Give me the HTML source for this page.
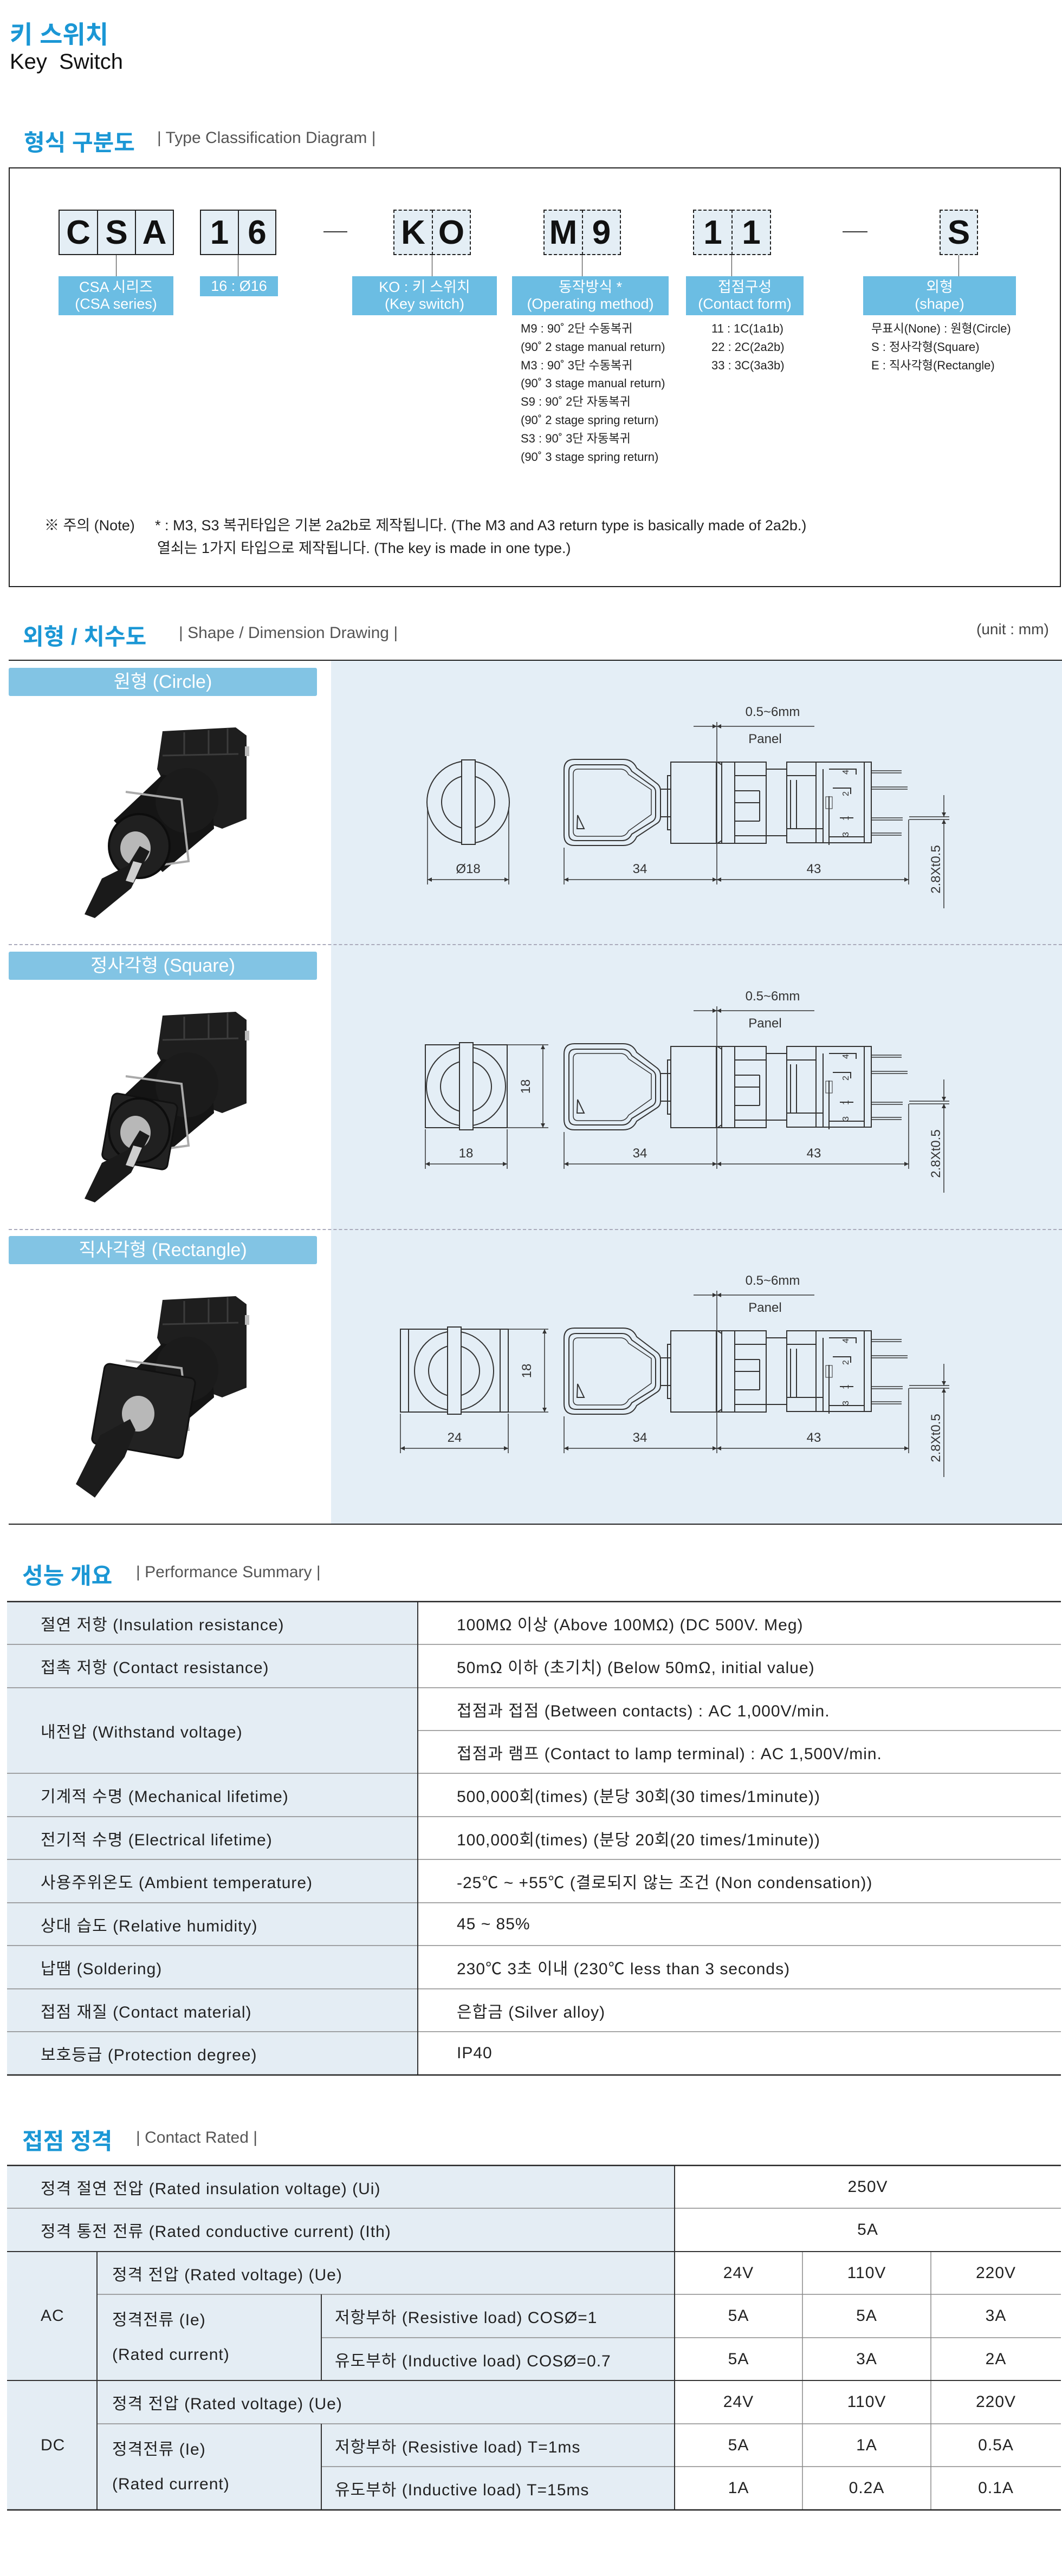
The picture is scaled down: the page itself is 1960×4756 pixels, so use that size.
<!DOCTYPE html>
<html><head><meta charset="utf-8">
<style>
*{margin:0;padding:0;box-sizing:border-box}
body{width:1960px;height:4756px;background:#fff;position:relative;overflow:hidden;font-family:"Liberation Sans","Noto Sans CJK KR",sans-serif;color:#222}
.a{position:absolute;white-space:nowrap}
.h{font-weight:bold;color:#1b97d5;font-size:42px}
.hs{color:#555;font-size:30px}
.cell{position:absolute;background:#e4eef5;border:2px solid #222;display:flex;align-items:center;justify-content:center;font-weight:bold;font-size:62px;color:#111}
.dash{border:2px dashed #222}
.lab{position:absolute;background:#6bbde3;color:#fff;font-size:27px;text-align:center;line-height:31px;display:flex;flex-direction:column;justify-content:center}
.lst{position:absolute;font-size:22px;line-height:33.8px;color:#222;white-space:nowrap}
.bar{position:absolute;left:16px;width:569px;height:52px;background:#82c4e4;border-radius:3px;color:#fff;font-size:34px;text-align:center;line-height:52px}
.tb{position:absolute;font-size:30px;letter-spacing:1px;display:flex;align-items:center}
</style></head><body>

<div class="a" style="left:18px;top:28px;font-size:46px;font-weight:bold;color:#1b97d5">키 스위치</div>
<div class="a" style="left:18px;top:92px;font-size:40px;color:#111">Key&nbsp; Switch</div>

<div class="a h" style="left:44px;top:230px">형식 구분도</div>
<div class="a hs" style="left:290px;top:238px">| Type Classification Diagram |</div>

<div class="a" style="left:16px;top:309px;width:1942px;height:775px;border:2px solid #222"></div>

<div class="cell" style="left:108px;top:387px;width:73px;height:84px">C</div>
<div class="cell" style="left:179px;top:387px;width:72px;height:84px">S</div>
<div class="cell" style="left:249px;top:387px;width:72px;height:84px">A</div>
<div class="cell" style="left:369px;top:387px;width:72px;height:84px">1</div>
<div class="cell" style="left:439px;top:387px;width:71px;height:84px">6</div>
<div class="a" style="left:597px;top:427px;width:44px;height:2px;background:#333"></div>
<div class="cell dash" style="left:726px;top:387px;width:73px;height:84px">K</div>
<div class="cell dash" style="left:797px;top:387px;width:72px;height:84px">O</div>
<div class="cell dash" style="left:1003px;top:387px;width:73px;height:84px">M</div>
<div class="cell dash" style="left:1074px;top:387px;width:72px;height:84px">9</div>
<div class="cell dash" style="left:1279px;top:387px;width:73px;height:84px">1</div>
<div class="cell dash" style="left:1350px;top:387px;width:73px;height:84px">1</div>
<div class="a" style="left:1555px;top:427px;width:46px;height:2px;background:#333"></div>
<div class="cell dash" style="left:1734px;top:387px;width:71px;height:84px">S</div>

<div class="a" style="left:214px;top:471px;width:1px;height:39px;background:#333"></div>
<div class="a" style="left:439px;top:471px;width:1px;height:39px;background:#333"></div>
<div class="a" style="left:797px;top:471px;width:1px;height:39px;background:#333"></div>
<div class="a" style="left:1074px;top:471px;width:1px;height:39px;background:#333"></div>
<div class="a" style="left:1350px;top:471px;width:1px;height:39px;background:#333"></div>
<div class="a" style="left:1769px;top:471px;width:1px;height:39px;background:#333"></div>

<div class="lab" style="left:108px;top:510px;width:212px;height:72px"><div>CSA 시리즈</div><div>(CSA series)</div></div>
<div class="lab" style="left:369px;top:510px;width:144px;height:37px"><div>16 : Ø16</div></div>
<div class="lab" style="left:650px;top:510px;width:267px;height:72px"><div>KO : 키 스위치</div><div>(Key switch)</div></div>
<div class="lab" style="left:945px;top:510px;width:289px;height:72px"><div>동작방식 *</div><div>(Operating method)</div></div>
<div class="lab" style="left:1266px;top:510px;width:217px;height:72px"><div>접점구성</div><div>(Contact form)</div></div>
<div class="lab" style="left:1593px;top:510px;width:282px;height:72px"><div>외형</div><div>(shape)</div></div>

<div class="lst" style="left:961px;top:590px">M9 : 90˚ 2단 수동복귀<br>(90˚ 2 stage manual return)<br>M3 : 90˚ 3단 수동복귀<br>(90˚ 3 stage manual return)<br>S9 : 90˚ 2단 자동복귀<br>(90˚ 2 stage spring return)<br>S3 : 90˚ 3단 자동복귀<br>(90˚ 3 stage spring return)</div>
<div class="lst" style="left:1313px;top:590px">11 : 1C(1a1b)<br>22 : 2C(2a2b)<br>33 : 3C(3a3b)</div>
<div class="lst" style="left:1608px;top:590px">무표시(None) : 원형(Circle)<br>S : 정사각형(Square)<br>E : 직사각형(Rectangle)</div>

<div class="a" style="left:82px;top:948px;font-size:27px">※ 주의 (Note)</div>
<div class="a" style="left:286px;top:948px;font-size:27px">* : M3, S3 복귀타입은 기본 2a2b로 제작됩니다. (The M3 and A3 return type is basically made of 2a2b.)</div>
<div class="a" style="left:290px;top:990px;font-size:27px">열쇠는 1가지 타입으로 제작됩니다. (The key is made in one type.)</div>

<div class="a h" style="left:42px;top:1142px">외형 / 치수도</div>
<div class="a hs" style="left:330px;top:1152px">| Shape / Dimension Drawing |</div>
<div class="a" style="left:1802px;top:1146px;font-size:28px;color:#444">(unit : mm)</div>
<div class="a" style="left:16px;top:1218px;width:1944px;height:2px;background:#222"></div>
<div class="a" style="left:611px;top:1220px;width:1349px;height:1594px;background:#e4eef6"></div>
<div class="a" style="left:16px;top:1743px;width:1944px;border-top:2px dashed #aab"></div>
<div class="a" style="left:16px;top:2269px;width:1944px;border-top:2px dashed #aab"></div>
<div class="a" style="left:16px;top:2813px;width:1944px;height:2px;background:#222"></div>
<div class="bar" style="top:1233px">원형 (Circle)</div>
<div class="bar" style="top:1757px">정사각형 (Square)</div>
<div class="bar" style="top:2282px">직사각형 (Rectangle)</div>

<svg class="a" style="left:0;top:0" width="1960" height="2820" viewBox="0 0 1960 2820">
<defs>
<marker id="ar" viewBox="0 0 10 10" refX="10" refY="5" markerWidth="14" markerHeight="8" orient="auto-start-reverse" markerUnits="userSpaceOnUse"><path d="M0,0L10,5L0,10z" fill="#333"/></marker>
<g id="side" fill="none" stroke="#333" stroke-width="2">
<path d="M1060,1402 H1150 Q1168,1402 1175,1418 L1213,1447 Q1219,1452 1219,1460 V1508 Q1219,1516 1213,1520 L1175,1545 Q1168,1561 1150,1561 H1060 Q1041,1561 1041,1542 V1421 Q1041,1402 1060,1402Z"/>
<path d="M1063,1412 H1148 Q1160,1412 1166,1424 L1205,1452 Q1210,1456 1210,1462 V1506 Q1210,1512 1205,1516 L1166,1540 Q1160,1552 1148,1552 H1063 Q1050,1552 1050,1540 V1424 Q1050,1412 1063,1412Z"/>
<path d="M1067,1420 H1145 Q1155,1420 1160,1430 L1202,1458 V1504 L1160,1534 Q1155,1544 1145,1544 H1067 Q1058,1544 1058,1535 V1429 Q1058,1420 1067,1420Z" stroke-width="1.5"/>
<path d="M1066,1505 L1078,1530 H1065Z"/>
<path d="M1219,1457 H1238 M1219,1508 H1238"/>
<rect x="1238" y="1407" width="84" height="150"/>
<path d="M1238,1432 h-6 v100 h6"/>
<path d="M1324,1407 l8,5 v140 l-8,5 M1332,1407 V1557 M1356,1407 V1557 M1324,1407 H1414 V1557 H1324"/>
<path d="M1356,1432 H1414 M1356,1460 H1402 M1356,1482 H1402 M1356,1516 H1402 M1356,1543 H1414 M1402,1460 V1516"/>
<path d="M1414,1420 H1452 M1414,1543 H1452"/>
<rect x="1452" y="1407" width="143" height="149"/>
<path d="M1506,1407 V1556 M1519,1420 V1556 M1452,1432 H1506 M1459,1440 V1530 M1470,1440 V1530 M1452,1530 H1519"/>
<path d="M1530,1420 H1580 V1430 M1537,1455 H1570 V1466 M1530,1470 V1560 M1550,1510 H1575 M1530,1545 H1595"/>
<path d="M1595,1407 H1608 V1556 H1595"/>
<path d="M1608,1423 H1664 M1608,1427 H1664 M1608,1453 H1675 M1608,1457 H1675 M1608,1510 H1666 M1608,1514 H1666 M1608,1538 H1664 M1608,1542 H1664" stroke-width="1.5"/>
<rect x="1524" y="1471" width="12" height="22" stroke-width="1"/>
<text x="1566" y="1430" font-size="16" fill="#333" stroke="none" transform="rotate(-90 1566 1430)" font-family="Liberation Sans">4</text>
<text x="1566" y="1470" font-size="16" fill="#333" stroke="none" transform="rotate(-90 1566 1470)" font-family="Liberation Sans">2</text>
<text x="1566" y="1515" font-size="16" fill="#333" stroke="none" transform="rotate(-90 1566 1515)" font-family="Liberation Sans">1</text>
<text x="1566" y="1545" font-size="16" fill="#333" stroke="none" transform="rotate(-90 1566 1545)" font-family="Liberation Sans">3</text>
<path d="M1323,1333 V1633" stroke-width="1.5"/>
<path d="M1280,1341 H1323" marker-end="url(#ar)" stroke-width="1.5"/>
<path d="M1503,1341 H1323" marker-end="url(#ar)" stroke-width="1.5"/>
<path d="M1041,1565 V1633 M1677,1513 V1633" stroke-width="1.5"/>
<path d="M1041,1624 H1323" marker-start="url(#ar)" marker-end="url(#ar)" stroke-width="1.5"/>
<path d="M1323,1624 H1677" marker-start="url(#ar)" marker-end="url(#ar)" stroke-width="1.5"/>
<path d="M1678,1508 H1752 M1678,1513 H1752" stroke-width="1.5"/>
<path d="M1742,1468 V1508" marker-end="url(#ar)" stroke-width="1.5"/>
<path d="M1742,1677 V1513" marker-end="url(#ar)" stroke-width="1.5"/>
<g fill="#333" stroke="none" font-family="Liberation Sans" font-size="24" text-anchor="middle">
<text x="1426" y="1322">0.5~6mm</text>
<text x="1412" y="1372">Panel</text>
<text x="1181" y="1612">34</text>
<text x="1502" y="1612">43</text>
<text x="1735" y="1605" transform="rotate(-90 1735 1605)">2.8Xt0.5</text>
</g>
</g>
<g id="pback">
<path d="M300,1350 L435,1343 L455,1358 L455,1512 L410,1530 L330,1500 L290,1420Z" fill="#1e1e1e"/>
<path d="M300,1395 L440,1392 M340,1352 V1395 M385,1348 V1393 M420,1345 V1392" stroke="#3c3c3c" stroke-width="3"/>
<rect x="452" y="1378" width="8" height="18" fill="#bbb"/>
<path d="M300,1430 L390,1450 L395,1530 L300,1610 L210,1515Z" fill="#151515"/>
<ellipse cx="345" cy="1478" rx="58" ry="60" fill="#1b1b1b"/>
<path d="M232,1462 L335,1476 L348,1590 L262,1602" stroke="#aaa" stroke-width="4" fill="none"/>
</g>
<g id="pfront">
<ellipse cx="257" cy="1562" rx="56" ry="59" fill="#202020" stroke="#0d0d0d" stroke-width="4"/>
<ellipse cx="250" cy="1566" rx="28" ry="31" fill="#b8b8b8"/>
<path d="M258,1562 L276,1572 L242,1640 L175,1695 L156,1688 L188,1622 L236,1598Z" fill="#1a1a1a"/>
<path d="M246,1590 L262,1594 L246,1630 L232,1626Z" fill="#cfcfcf"/>
</g>
</defs>

<use href="#pback"/><use href="#pfront"/>
<use href="#side"/>
<g fill="none" stroke="#333" stroke-width="2">
<circle cx="864" cy="1481" r="76"/><circle cx="864" cy="1481" r="49"/>
<rect x="852" y="1403" width="25" height="156" fill="#e4eef6"/>
<path d="M789,1490 V1633 M939,1490 V1633" stroke-width="1.5"/>
<path d="M789,1624 H939" marker-start="url(#ar)" marker-end="url(#ar)" stroke-width="1.5"/>
</g>
<text x="864" y="1612" font-size="24" text-anchor="middle" fill="#333" font-family="Liberation Sans">Ø18</text>

<g transform="translate(0,525)">
<use href="#pback"/>
<rect x="197" y="1502" width="122" height="124" rx="10" fill="#222" stroke="#111" stroke-width="3" transform="rotate(10 258 1564)"/>
<use href="#pfront"/>
<use href="#side"/>
<g fill="none" stroke="#333" stroke-width="2">
<rect x="785" y="1404" width="151" height="153"/>
<circle cx="860" cy="1481" r="73"/><circle cx="860" cy="1481" r="47"/>
<rect x="848" y="1400" width="25" height="161" fill="#e4eef6"/>
<path d="M785,1560 V1633 M936,1560 V1633 M936,1404 H1012 M936,1557 H1012" stroke-width="1.5"/>
<path d="M785,1624 H936" marker-start="url(#ar)" marker-end="url(#ar)" stroke-width="1.5"/>
<path d="M1002,1404 V1557" marker-start="url(#ar)" marker-end="url(#ar)" stroke-width="1.5"/>
</g>
<text x="860" y="1612" font-size="24" text-anchor="middle" fill="#333" font-family="Liberation Sans">18</text>
<text x="978" y="1481" font-size="24" text-anchor="middle" fill="#333" font-family="Liberation Sans" transform="rotate(-90 978 1481)">18</text>
</g>

<g transform="translate(0,1050)">
<use href="#pback"/>
<rect x="180" y="1480" width="170" height="150" rx="10" fill="#222" stroke="#111" stroke-width="3" transform="rotate(10 265 1555)"/>
<ellipse cx="255" cy="1560" rx="30" ry="33" fill="#b8b8b8"/>
<path d="M240,1570 L185,1600 L140,1690 L175,1715 L230,1640 L250,1590Z" fill="#1c1c1c"/>
<use href="#side"/>
<g fill="none" stroke="#333" stroke-width="2">
<rect x="739" y="1404" width="199" height="153"/>
<path d="M754,1404 V1557 M923,1404 V1557"/>
<circle cx="838" cy="1481" r="73"/><circle cx="838" cy="1481" r="47"/>
<rect x="826" y="1400" width="25" height="161" fill="#e4eef6"/>
<path d="M739,1560 V1633 M938,1560 V1633 M938,1404 H1012 M938,1557 H1012" stroke-width="1.5"/>
<path d="M739,1624 H938" marker-start="url(#ar)" marker-end="url(#ar)" stroke-width="1.5"/>
<path d="M1005,1404 V1557" marker-start="url(#ar)" marker-end="url(#ar)" stroke-width="1.5"/>
</g>
<text x="839" y="1612" font-size="24" text-anchor="middle" fill="#333" font-family="Liberation Sans">24</text>
<text x="980" y="1481" font-size="24" text-anchor="middle" fill="#333" font-family="Liberation Sans" transform="rotate(-90 980 1481)">18</text>
</g>
</svg>

<div class="a h" style="left:41px;top:2876px">성능 개요</div>
<div class="a hs" style="left:251px;top:2886px">| Performance Summary |</div>
<svg class="a" style="left:0;top:2950px" width="1960" height="890">
<rect x="13" y="7" width="758" height="874" fill="#e4edf4"/>
<g stroke="#888" stroke-width="1.5">
<line x1="13" y1="86" x2="1958" y2="86"/>
<line x1="13" y1="166" x2="1958" y2="166"/>
<line x1="771" y1="245" x2="1958" y2="245"/>
<line x1="13" y1="324" x2="1958" y2="324"/>
<line x1="13" y1="404" x2="1958" y2="404"/>
<line x1="13" y1="483" x2="1958" y2="483"/>
<line x1="13" y1="563" x2="1958" y2="563"/>
<line x1="13" y1="642" x2="1958" y2="642"/>
<line x1="13" y1="722" x2="1958" y2="722"/>
<line x1="13" y1="801" x2="1958" y2="801"/>
</g>
<line x1="771" y1="7" x2="771" y2="881" stroke="#333" stroke-width="2"/>
<line x1="13" y1="7" x2="1958" y2="7" stroke="#222" stroke-width="2.5"/>
<line x1="13" y1="881" x2="1958" y2="881" stroke="#222" stroke-width="2.5"/>
</svg>
<div class="tb" style="left:75px;top:2957px;height:80px">절연 저항 (Insulation resistance)</div>
<div class="tb" style="left:75px;top:3036px;height:80px">접촉 저항 (Contact resistance)</div>
<div class="tb" style="left:75px;top:3116px;height:158px">내전압 (Withstand voltage)</div>
<div class="tb" style="left:75px;top:3274px;height:80px">기계적 수명 (Mechanical lifetime)</div>
<div class="tb" style="left:75px;top:3354px;height:80px">전기적 수명 (Electrical lifetime)</div>
<div class="tb" style="left:75px;top:3433px;height:80px">사용주위온도 (Ambient temperature)</div>
<div class="tb" style="left:75px;top:3513px;height:80px">상대 습도 (Relative humidity)</div>
<div class="tb" style="left:75px;top:3592px;height:80px">납땜 (Soldering)</div>
<div class="tb" style="left:75px;top:3672px;height:80px">접점 재질 (Contact material)</div>
<div class="tb" style="left:75px;top:3751px;height:80px">보호등급 (Protection degree)</div>

<div class="tb" style="left:843px;top:2957px;height:80px">100MΩ 이상 (Above 100MΩ) (DC 500V. Meg)</div>
<div class="tb" style="left:843px;top:3036px;height:80px">50mΩ 이하 (초기치) (Below 50mΩ, initial value)</div>
<div class="tb" style="left:843px;top:3116px;height:80px">접점과 접점 (Between contacts) : AC 1,000V/min.</div>
<div class="tb" style="left:843px;top:3195px;height:80px">접점과 램프 (Contact to lamp terminal) : AC 1,500V/min.</div>
<div class="tb" style="left:843px;top:3274px;height:80px">500,000회(times) (분당 30회(30 times/1minute))</div>
<div class="tb" style="left:843px;top:3354px;height:80px">100,000회(times) (분당 20회(20 times/1minute))</div>
<div class="tb" style="left:843px;top:3433px;height:80px">-25℃ ~ +55℃ (결로되지 않는 조건 (Non condensation))</div>
<div class="tb" style="left:843px;top:3513px;height:80px">45 ~ 85%</div>
<div class="tb" style="left:843px;top:3592px;height:80px">230℃ 3초 이내 (230℃ less than 3 seconds)</div>
<div class="tb" style="left:843px;top:3672px;height:80px">은합금 (Silver alloy)</div>
<div class="tb" style="left:843px;top:3751px;height:80px">IP40</div>

<div class="a h" style="left:41px;top:3920px">접점 정격</div>
<div class="a hs" style="left:251px;top:3930px">| Contact Rated |</div>
<svg class="a" style="left:0;top:3990px" width="1960" height="660">
<rect x="13" y="8" width="1232" height="636" fill="#e4edf4"/>
<g stroke="#888" stroke-width="1.5">
<line x1="13" y1="87" x2="1958" y2="87"/>
<line x1="179" y1="246" x2="1958" y2="246"/>
<line x1="593" y1="326" x2="1958" y2="326"/>
<line x1="179" y1="485" x2="1958" y2="485"/>
<line x1="593" y1="564" x2="1958" y2="564"/>
<line x1="1481" y1="167" x2="1481" y2="644"/>
<line x1="1718" y1="167" x2="1718" y2="644"/>
</g>
<g stroke="#333" stroke-width="2">
<line x1="13" y1="167" x2="1958" y2="167"/>
<line x1="13" y1="405" x2="1958" y2="405"/>
<line x1="179" y1="167" x2="179" y2="644"/>
<line x1="593" y1="246" x2="593" y2="405"/>
<line x1="593" y1="485" x2="593" y2="644"/>
<line x1="1245" y1="8" x2="1245" y2="644"/>
</g>
<line x1="13" y1="8" x2="1958" y2="8" stroke="#222" stroke-width="2.5"/>
<line x1="13" y1="644" x2="1958" y2="644" stroke="#222" stroke-width="2.5"/>
</svg>
<div class="tb" style="left:75px;top:3998px;height:80px">정격 절연 전압 (Rated insulation voltage) (Ui)</div>
<div class="tb" style="left:75px;top:4077px;height:80px">정격 통전 전류 (Rated conductive current) (Ith)</div>
<div class="tb" style="left:75px;top:4157px;height:238px">AC</div>
<div class="tb" style="left:75px;top:4395px;height:239px">DC</div>
<div class="tb" style="left:207px;top:4157px;height:80px">정격 전압 (Rated voltage) (Ue)</div>
<div class="tb" style="left:207px;top:4236px;height:159px;flex-direction:column;align-items:flex-start;justify-content:center;line-height:64px">정격전류 (Ie)<br>(Rated current)</div>
<div class="tb" style="left:207px;top:4395px;height:80px">정격 전압 (Rated voltage) (Ue)</div>
<div class="tb" style="left:207px;top:4475px;height:159px;flex-direction:column;align-items:flex-start;justify-content:center;line-height:64px">정격전류 (Ie)<br>(Rated current)</div>
<div class="tb" style="left:618px;top:4236px;height:80px">저항부하 (Resistive load) COSØ=1</div>
<div class="tb" style="left:618px;top:4316px;height:80px">유도부하 (Inductive load) COSØ=0.7</div>
<div class="tb" style="left:618px;top:4475px;height:80px">저항부하 (Resistive load) T=1ms</div>
<div class="tb" style="left:618px;top:4554px;height:80px">유도부하 (Inductive load) T=15ms</div>

<div class="tb" style="left:1245px;top:3998px;width:713px;height:80px;justify-content:center">250V</div>
<div class="tb" style="left:1245px;top:4077px;width:713px;height:80px;justify-content:center">5A</div>

<div class="tb" style="left:1245px;top:4157px;width:236px;height:80px;justify-content:center">24V</div>
<div class="tb" style="left:1481px;top:4157px;width:237px;height:80px;justify-content:center">110V</div>
<div class="tb" style="left:1718px;top:4157px;width:240px;height:80px;justify-content:center">220V</div>
<div class="tb" style="left:1245px;top:4236px;width:236px;height:80px;justify-content:center">5A</div>
<div class="tb" style="left:1481px;top:4236px;width:237px;height:80px;justify-content:center">5A</div>
<div class="tb" style="left:1718px;top:4236px;width:240px;height:80px;justify-content:center">3A</div>
<div class="tb" style="left:1245px;top:4316px;width:236px;height:80px;justify-content:center">5A</div>
<div class="tb" style="left:1481px;top:4316px;width:237px;height:80px;justify-content:center">3A</div>
<div class="tb" style="left:1718px;top:4316px;width:240px;height:80px;justify-content:center">2A</div>
<div class="tb" style="left:1245px;top:4395px;width:236px;height:80px;justify-content:center">24V</div>
<div class="tb" style="left:1481px;top:4395px;width:237px;height:80px;justify-content:center">110V</div>
<div class="tb" style="left:1718px;top:4395px;width:240px;height:80px;justify-content:center">220V</div>
<div class="tb" style="left:1245px;top:4475px;width:236px;height:80px;justify-content:center">5A</div>
<div class="tb" style="left:1481px;top:4475px;width:237px;height:80px;justify-content:center">1A</div>
<div class="tb" style="left:1718px;top:4475px;width:240px;height:80px;justify-content:center">0.5A</div>
<div class="tb" style="left:1245px;top:4554px;width:236px;height:80px;justify-content:center">1A</div>
<div class="tb" style="left:1481px;top:4554px;width:237px;height:80px;justify-content:center">0.2A</div>
<div class="tb" style="left:1718px;top:4554px;width:240px;height:80px;justify-content:center">0.1A</div>

</body></html>
